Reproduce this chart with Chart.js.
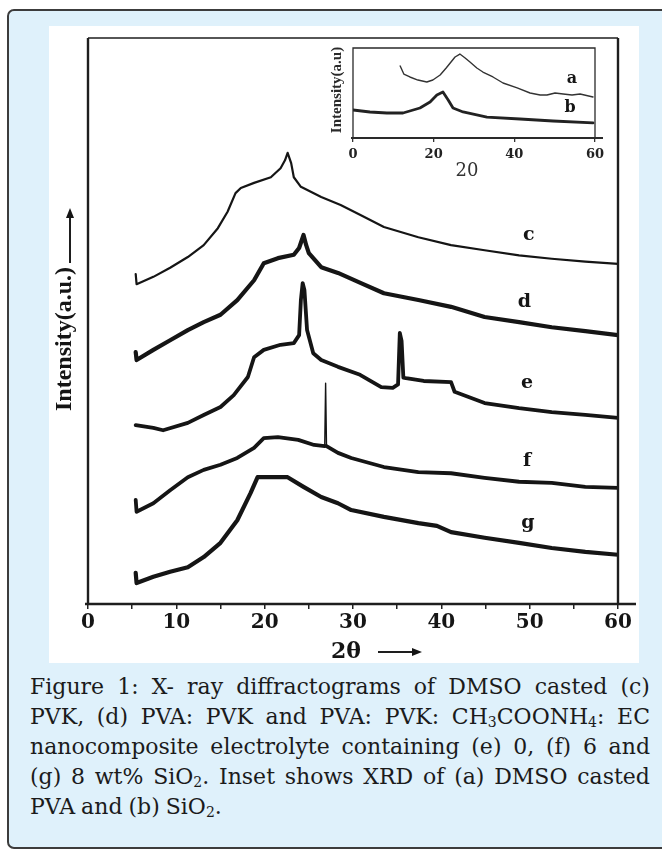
<!DOCTYPE html>
<html>
<head>
<meta charset="utf-8">
<script src="https://cdn.jsdelivr.net/npm/chart.js@4.4.0/dist/chart.umd.min.js"></script>
<style>
  html, body { margin: 0; padding: 0; background: #fff; }
  body { width: 662px; height: 850px; position: relative; overflow: hidden; }
  #box {
    position: absolute; left: 7px; top: 9px; width: 720px; height: 840px;
    box-sizing: border-box; border: 2px solid #3c3c3c; border-radius: 7px;
    background: #dff1fb;
  }
  #fig { position: absolute; left: 49px; top: 26px; width: 590px; height: 637px; background: #fff; }
  #main { position: absolute; left: 0; top: 0; }
  #inset { position: absolute; left: 271px; top: 14px; }
  #caption {
    position: absolute; left: 30px; top: 672px; width: 620px;
    font-family: "DejaVu Serif", serif; font-size: 22px; line-height: 30px; color: #1b1b1b;
  }
  .ln { display: flex; justify-content: space-between; white-space: nowrap; }
  .ln.last { justify-content: flex-start; gap: 6px; }
  sub { font-size: 14px; vertical-align: -3px; line-height: 0; }
</style>
</head>
<body>
<div id="box"></div>
<div id="fig">
  <canvas id="main" width="590" height="637"></canvas>
  <canvas id="inset" width="300" height="150"></canvas>
</div>
<div id="caption">
  <div class="ln"><span>Figure</span><span>1:</span><span>X-</span><span>ray</span><span>diffractograms</span><span>of</span><span>DMSO</span><span>casted</span><span>(c)</span></div>
  <div class="ln"><span>PVK,</span><span>(d)</span><span>PVA:</span><span>PVK</span><span>and</span><span>PVA:</span><span>PVK:</span><span>CH<sub>3</sub>COONH<sub>4</sub>:</span><span>EC</span></div>
  <div class="ln"><span>nanocomposite</span><span>electrolyte</span><span>containing</span><span>(e)</span><span>0,</span><span>(f)</span><span>6</span><span>and</span></div>
  <div class="ln"><span>(g)</span><span>8</span><span>wt%</span><span>SiO<sub>2</sub>.</span><span>Inset</span><span>shows</span><span>XRD</span><span>of</span><span>(a)</span><span>DMSO</span><span>casted</span></div>
  <div class="ln last"><span>PVA</span><span>and</span><span>(b)</span><span>SiO<sub>2</sub>.</span></div>
</div>
<script>
// Main diffractograms: 2theta (deg) and intensity (a.u., offset traces)
const cTheta = [5.4, 5.5, 7.4, 9.3, 11.3, 13.1, 14.7, 15.8, 16.7, 17.3, 18.8, 20.7, 21.8, 22.3, 22.6, 23.0, 23.3, 24.1, 26.4, 28.6, 30.9, 33.5, 37.4, 41.1, 44.9, 48.8, 52.5, 56.3, 60.0];
const cInt   = [58.3, 56.5, 57.8, 59.4, 61.3, 63.4, 66.4, 69.3, 72.6, 73.5, 74.4, 75.4, 77.0, 78.4, 79.7, 77.9, 75.4, 73.7, 71.9, 70.5, 68.7, 66.6, 64.8, 63.4, 62.5, 61.6, 61.0, 60.5, 60.1];

const dTheta = [5.4, 5.5, 7.4, 9.3, 11.3, 13.1, 15.0, 16.9, 18.8, 19.9, 21.5, 23.3, 23.9, 24.4, 24.7, 25.0, 26.4, 28.3, 30.9, 33.5, 37.4, 41.1, 44.9, 48.8, 52.5, 56.3, 60.0];
const dInt   = [44.5, 43.1, 44.9, 46.6, 48.4, 49.8, 51.1, 53.7, 57.2, 60.2, 61.1, 61.7, 62.9, 65.2, 63.4, 62.0, 59.5, 58.5, 56.7, 54.9, 53.7, 52.5, 50.7, 49.8, 48.9, 48.2, 47.5];

const eTheta = [5.4, 7.4, 8.5, 11.3, 13.1, 15.0, 16.5, 18.1, 18.8, 19.9, 21.8, 23.3, 23.9, 24.1, 24.3, 24.5, 24.8, 25.5, 26.4, 28.3, 30.8, 33.2, 34.5, 35.1, 35.3, 35.5, 35.7, 36.0, 38.0, 41.1, 41.5, 44.9, 48.8, 52.5, 56.3, 60.0];
const eInt   = [31.6, 31.1, 30.7, 32.0, 33.4, 34.8, 36.9, 40.1, 43.6, 44.9, 45.8, 46.1, 47.5, 53.7, 56.7, 55.5, 48.4, 44.3, 43.1, 41.9, 40.5, 38.3, 38.2, 38.8, 47.9, 46.5, 40.0, 39.9, 39.4, 39.2, 37.5, 35.5, 34.6, 33.9, 33.4, 32.9];

const fTheta = [5.4, 5.5, 7.4, 9.3, 11.3, 13.1, 15.0, 16.9, 18.8, 19.9, 21.5, 23.8, 25.6, 26.8, 26.9, 27.0, 28.3, 29.8, 33.5, 37.4, 41.1, 44.9, 48.8, 52.5, 56.3, 60.0];
const fInt   = [18.4, 16.3, 17.8, 20.1, 22.4, 23.7, 24.6, 25.8, 27.6, 29.3, 29.5, 29.0, 28.1, 27.9, 39.0, 27.9, 26.7, 25.8, 24.2, 23.3, 23.1, 22.3, 21.6, 21.4, 20.7, 20.5];

const gTheta = [5.4, 5.5, 7.4, 9.3, 11.3, 13.1, 15.0, 16.9, 18.4, 19.2, 20.7, 22.6, 24.4, 26.4, 28.3, 29.8, 33.5, 37.4, 39.5, 41.1, 44.9, 48.8, 52.5, 56.3, 60.0];
const gInt   = [5.5, 3.7, 4.8, 5.7, 6.5, 8.3, 10.8, 14.8, 19.6, 22.4, 22.4, 22.4, 20.7, 18.9, 17.8, 16.6, 15.4, 14.3, 13.8, 12.7, 11.7, 10.8, 9.9, 9.2, 8.7];

const curveNames = ['c', 'd', 'e', 'f', 'g'];
const curveLabelTheta = [49.9, 49.4, 49.7, 49.7, 49.8];
const curveLabelInt = [65.2, 53.4, 39.0, 25.2, 14.3];

// Inset: (a) PVA, (b) SiO2
const aTheta = [11.7, 12.6, 14.1, 16.1, 18.3, 19.8, 21.6, 23.1, 24.1, 25.3, 26.5, 27.8, 29.0, 30.7, 32.2, 34.7, 37.2, 40.7, 43.9, 46.4, 48.1, 50.1, 52.1, 54.3, 56.3, 59.5];
const aInt   = [80.0, 71.1, 67.8, 64.4, 62.2, 64.4, 70.0, 77.8, 83.3, 90.0, 93.3, 88.9, 84.4, 77.8, 73.3, 67.8, 61.1, 55.6, 50.0, 47.8, 47.8, 50.0, 48.9, 47.8, 48.9, 45.6];
const bTheta = [0, 4.2, 8.4, 12.4, 16.6, 19.1, 20.8, 22.3, 23.6, 24.8, 27.3, 33.2, 41.4, 49.6, 59.5];
const bInt   = [31.1, 28.9, 27.8, 27.8, 33.3, 40.0, 47.8, 51.1, 42.2, 33.3, 28.9, 23.3, 21.1, 18.9, 16.7];

const insetNames = ['a', 'b'];
const insetLabelTheta = [54.3, 53.8];
const insetLabelInt = [65.6, 33.3];

function toPoints(xs, ys) {
    return xs.map((x, i) => ({ x: x, y: ys[i] }));
}

function arrow(ctx, x0, y0, x1, y1) {
    const ang = Math.atan2(y1 - y0, x1 - x0);
    const hl = 10, hw = 4;
    ctx.beginPath();
    ctx.moveTo(x0, y0);
    ctx.lineTo(x1 - hl * Math.cos(ang), y1 - hl * Math.sin(ang));
    ctx.stroke();
    ctx.beginPath();
    ctx.moveTo(x1, y1);
    ctx.lineTo(x1 - hl * Math.cos(ang) + hw * Math.sin(ang), y1 - hl * Math.sin(ang) - hw * Math.cos(ang));
    ctx.lineTo(x1 - hl * Math.cos(ang) - hw * Math.sin(ang), y1 - hl * Math.sin(ang) + hw * Math.cos(ang));
    ctx.closePath();
    ctx.fill();
}

const ink = '#151515';

// Frame, curve letters and axis titles for the main plot
const mainDecor = {
    id: 'mainDecor',
    afterDraw(chart) {
        const { ctx, chartArea: a, scales: { x, y } } = chart;
        ctx.save();
        ctx.strokeStyle = '#1e1e1e';
        ctx.fillStyle = ink;
        ctx.lineWidth = 1.6;
        ctx.beginPath();
        ctx.moveTo(a.left, a.top);
        ctx.lineTo(a.right, a.top);
        ctx.stroke();
        ctx.lineWidth = 2.4;
        ctx.beginPath();
        ctx.moveTo(a.left, a.top); ctx.lineTo(a.left, a.bottom);
        ctx.moveTo(a.right, a.top); ctx.lineTo(a.right, a.bottom);
        ctx.moveTo(a.left - 3, a.bottom); ctx.lineTo(a.right + 18, a.bottom);
        ctx.stroke();

        ctx.font = 'bold 19px "DejaVu Serif"';
        ctx.textAlign = 'center';
        ctx.textBaseline = 'middle';
        curveNames.forEach((n, i) => {
            ctx.fillText(n, x.getPixelForValue(curveLabelTheta[i]), y.getPixelForValue(curveLabelInt[i]));
        });

        // x title: 2θ with arrow
        ctx.font = 'bold 22px "DejaVu Serif"';
        ctx.fillText('2θ', 297, 626);
        ctx.lineWidth = 2;
        arrow(ctx, 329, 626, 373, 626);

        // y title: Intensity(a.u.) with arrow
        ctx.save();
        ctx.translate(16, 313);
        ctx.rotate(-Math.PI / 2);
        ctx.font = 'bold 24px "Liberation Serif"';
        ctx.fillText('Intensity(a.u.)', 0, 0);
        ctx.restore();
        arrow(ctx, 21, 237, 21, 182);
        ctx.restore();
    }
};

const insetDecor = {
    id: 'insetDecor',
    afterDraw(chart) {
        const { ctx, chartArea: a, scales: { x, y } } = chart;
        ctx.save();
        ctx.strokeStyle = '#2a2a2a';
        ctx.fillStyle = ink;
        ctx.lineWidth = 1.3;
        ctx.beginPath();
        ctx.moveTo(a.left, a.bottom); ctx.lineTo(a.left, a.top);
        ctx.lineTo(a.right, a.top); ctx.lineTo(a.right, a.bottom);
        ctx.stroke();
        ctx.lineWidth = 2.2;
        ctx.beginPath();
        ctx.moveTo(a.left - 2, a.bottom); ctx.lineTo(a.right + 8, a.bottom);
        ctx.stroke();

        ctx.textAlign = 'center';
        ctx.textBaseline = 'middle';
        ctx.font = 'bold 16px "DejaVu Serif"';
        insetNames.forEach((n, i) => {
            ctx.fillText(n, x.getPixelForValue(insetLabelTheta[i]), y.getPixelForValue(insetLabelInt[i]));
        });
        ctx.font = '18px "DejaVu Serif"';
        ctx.fillStyle = '#333';
        ctx.fillText('20', 147, 131);
        ctx.save();
        ctx.translate(17, 50);
        ctx.rotate(-Math.PI / 2);
        ctx.font = 'bold 15px "Liberation Serif"';
        ctx.fillStyle = '#2a2a2a';
        ctx.fillText('Intensity(a.u)', 0, 0);
        ctx.restore();
        ctx.restore();
    }
};

// Thin the narrow f reflection at ~27 deg
function spikeWidth(c) {
    const dx = Math.abs(c.p1.parsed.x - c.p0.parsed.x);
    const dy = Math.abs(c.p1.parsed.y - c.p0.parsed.y);
    return (dx < 0.2 && dy > 5) ? 1.4 : undefined;
}

function trace(data, width, extra) {
    return Object.assign({
        data: data,
        showLine: true,
        borderColor: ink,
        borderWidth: width,
        pointRadius: 0,
        tension: 0,
        borderJoinStyle: 'round',
        borderCapStyle: 'round'
    }, extra || {});
}

new Chart(document.getElementById('main'), {
    type: 'scatter',
    data: {
        datasets: [
            trace(toPoints(cTheta, cInt), 2.2),
            trace(toPoints(dTheta, dInt), 4.2),
            trace(toPoints(eTheta, eInt), 3.8),
            trace(toPoints(fTheta, fInt), 3.8, { segment: { borderWidth: spikeWidth } }),
            trace(toPoints(gTheta, gInt), 4.2)
        ]
    },
    options: {
        responsive: false,
        animation: false,
        events: [],
        layout: { padding: { top: 12, right: 21, left: 0, bottom: 0 } },
        plugins: { legend: { display: false }, tooltip: { enabled: false } },
        scales: {
            x: {
                type: 'linear', min: 0, max: 60,
                border: { display: false },
                grid: { drawOnChartArea: false, drawTicks: true, tickLength: 5, color: '#222', lineWidth: 1.5 },
                ticks: {
                    stepSize: 5, maxRotation: 0, padding: 2, color: ink,
                    font: { family: 'DejaVu Serif', size: 20, weight: 'bold' },
                    callback: v => (v % 10 === 0 ? v : '')
                },
                afterFit: s => { s.height = 59; }
            },
            y: {
                min: 0, max: 100,
                border: { display: false },
                grid: { display: false },
                ticks: { display: false },
                afterFit: s => { s.width = 39; }
            }
        }
    },
    plugins: [mainDecor]
});

new Chart(document.getElementById('inset'), {
    type: 'scatter',
    data: {
        datasets: [
            trace(toPoints(aTheta, aInt), 1.4, { borderColor: '#333' }),
            trace(toPoints(bTheta, bInt), 2.8, { borderColor: '#222' })
        ]
    },
    options: {
        responsive: false,
        animation: false,
        events: [],
        layout: { padding: { top: 8, right: 25, left: 0, bottom: 0 } },
        plugins: { legend: { display: false }, tooltip: { enabled: false } },
        scales: {
            x: {
                type: 'linear', min: 0, max: 60,
                border: { display: false },
                grid: { drawOnChartArea: false, tickLength: 4, color: '#333', lineWidth: 1.3 },
                ticks: {
                    stepSize: 20, maxRotation: 0, padding: 5, color: '#222',
                    font: { family: 'DejaVu Serif', size: 13, weight: 'bold' }
                },
                afterFit: s => { s.height = 52; }
            },
            y: {
                min: 0, max: 100,
                border: { display: false },
                grid: { display: false },
                ticks: { display: false },
                afterFit: s => { s.width = 33; }
            }
        }
    },
    plugins: [insetDecor]
});
</script>
</body>
</html>
